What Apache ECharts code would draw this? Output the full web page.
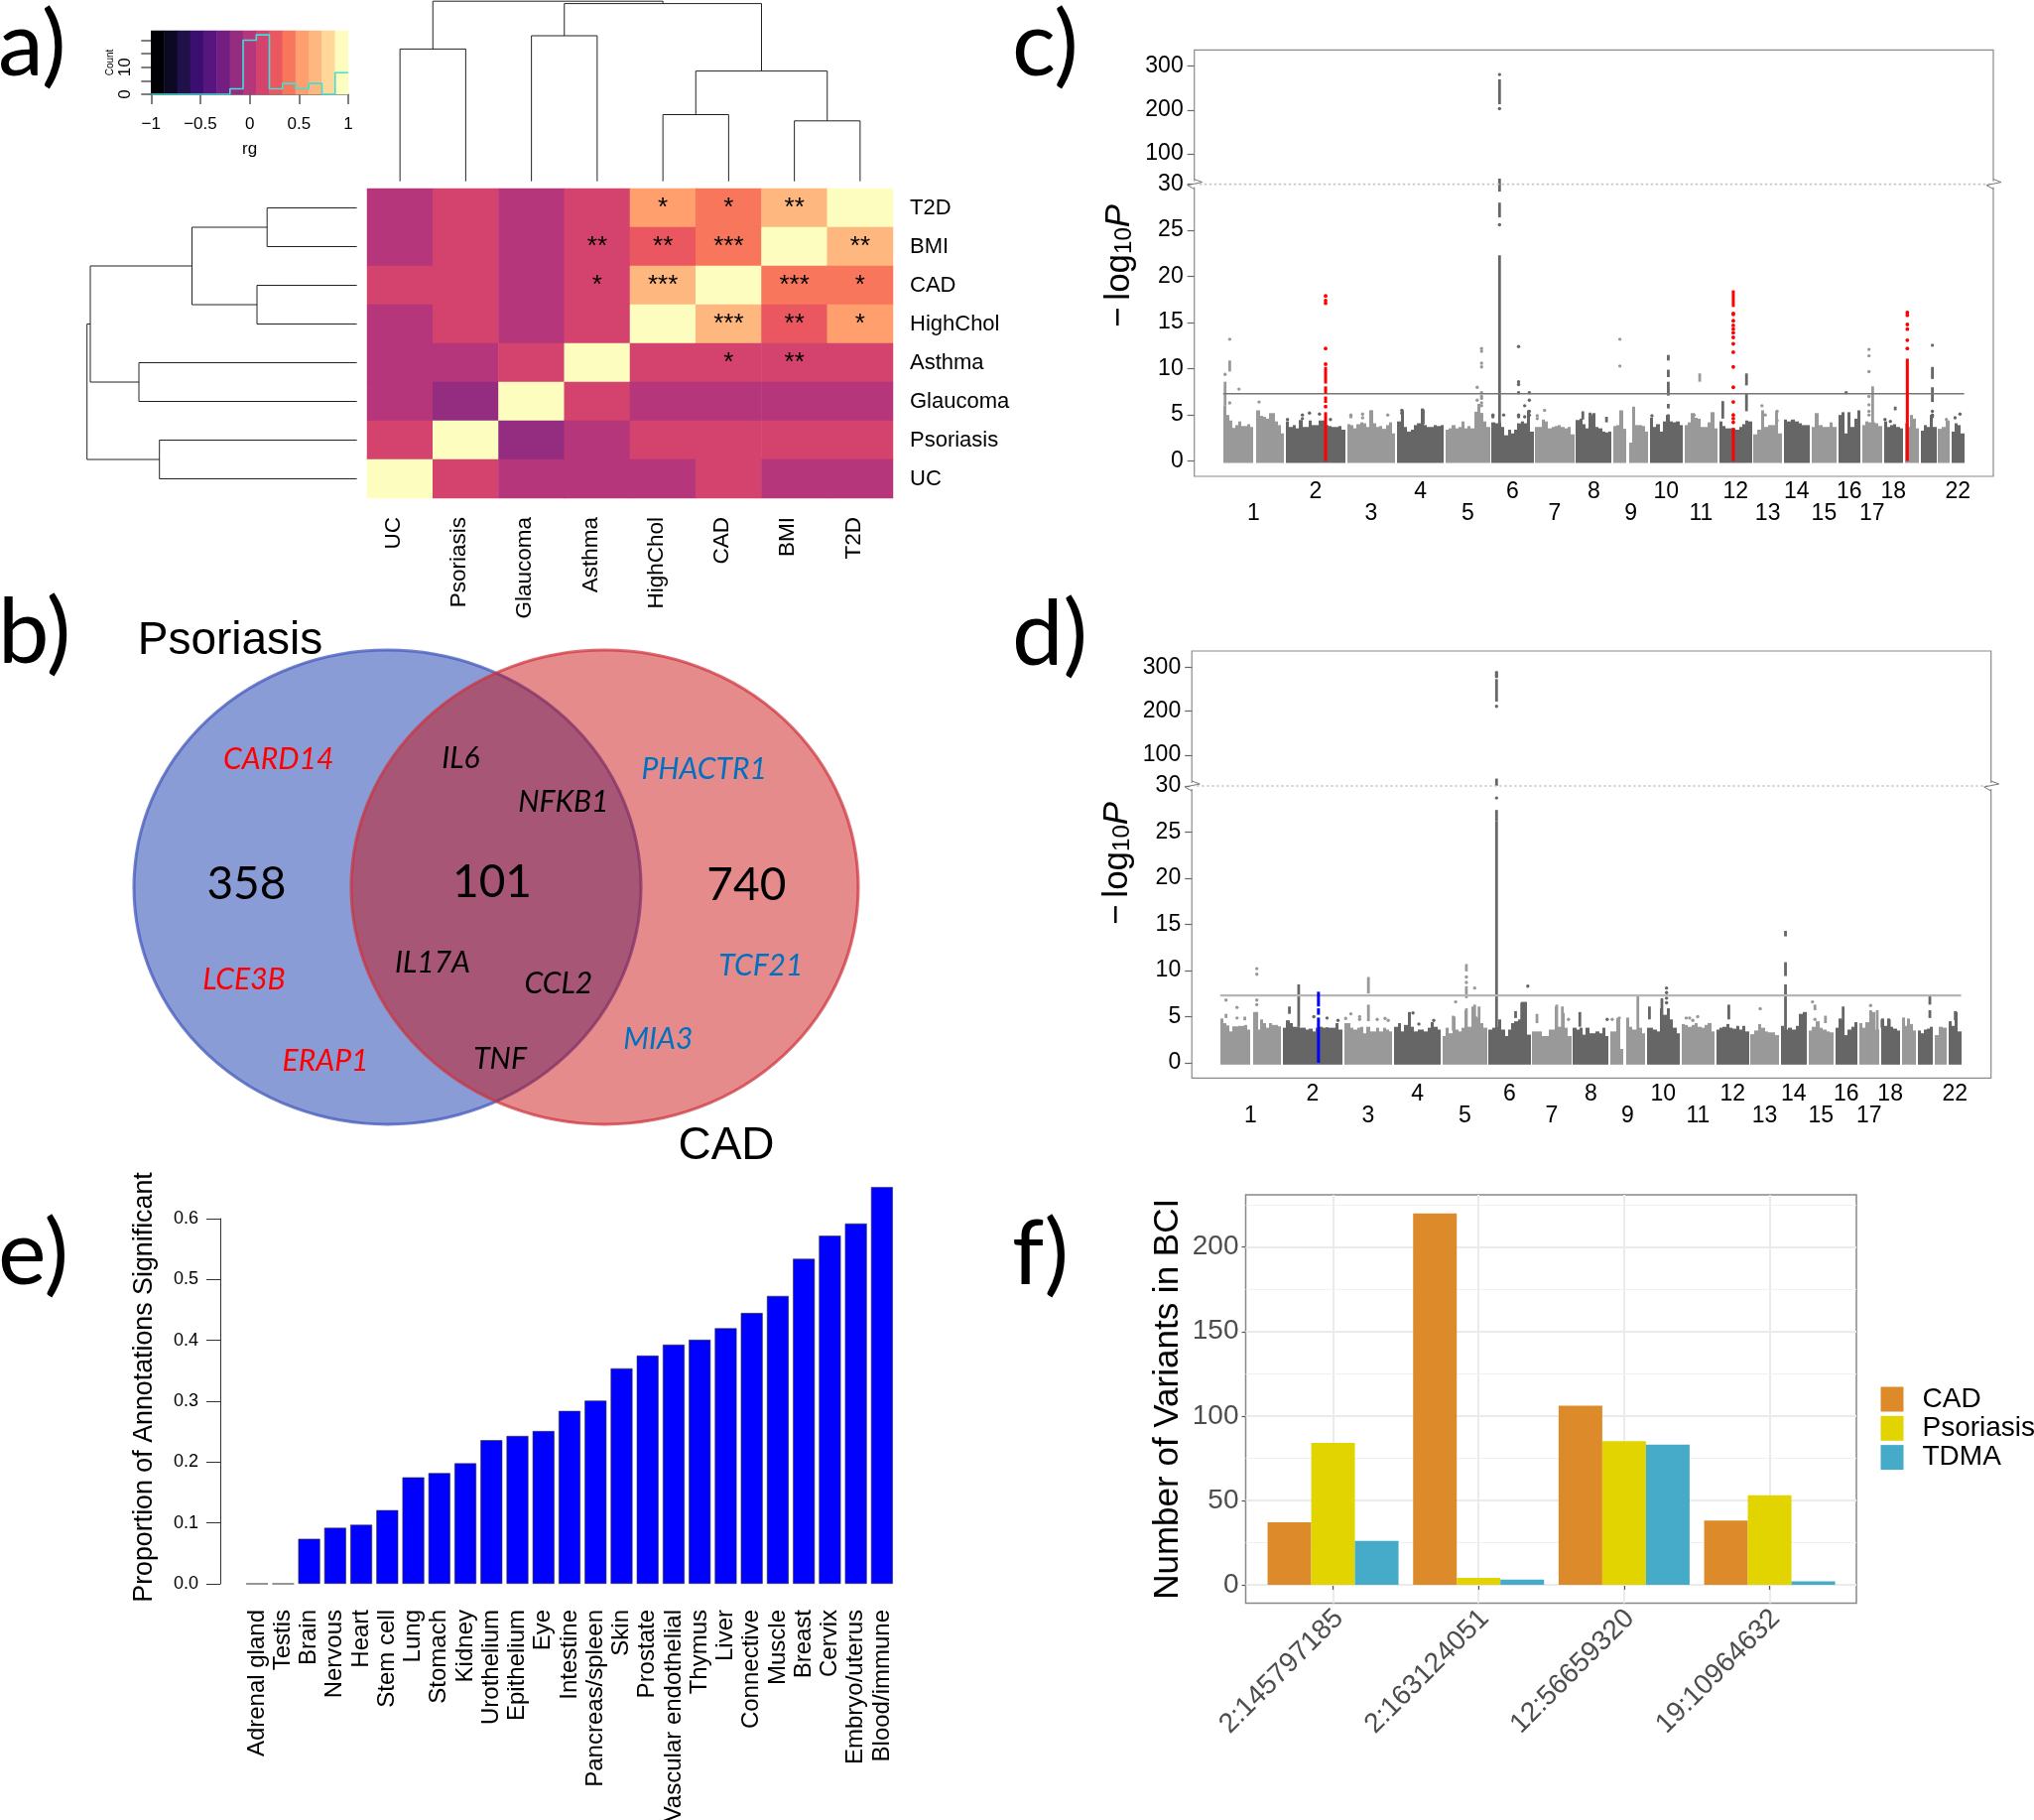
<!DOCTYPE html>
<html><head><meta charset="utf-8">
<style>html,body{margin:0;padding:0;background:#fff}#c{width:2050px;height:1834px}</style>
<script src="https://cdn.jsdelivr.net/npm/echarts@6/dist/echarts.min.js"></script>
</head><body><div id="c"></div>
<script>
// ---------- panel a ----------
const heatColumns=['UC','Psoriasis','Glaucoma','Asthma','HighChol','CAD','BMI','T2D'];
const heatRows=['T2D','BMI','CAD','HighChol','Asthma','Glaucoma','Psoriasis','UC'];
const heatValues=[
[0,.13,0,.13,.53,.40,.67,1],
[0,.13,0,.13,.27,.40,1,.67],
[.13,.13,0,.13,.67,1,.40,.40],
[0,.13,0,.13,1,.67,.27,.53],
[0,0,.13,1,.13,.13,.13,.13],
[0,-.13,1,.13,0,0,0,0],
[.13,1,-.13,0,.13,.13,.13,.13],
[1,.13,0,0,0,.13,0,0]];
const heatStars=[
['','','','','*','*','**',''],
['','','','**','**','***','','**'],
['','','','*','***','','***','*'],
['','','','','','***','**','*'],
['','','','','','*','**',''],
['','','','','','','',''],
['','','','','','','',''],
['','','','','','','','']];
const magma15=['#000004','#0b0924','#20114b','#3b0f70','#57157e','#721f81','#942c80','#b5367a','#d3436e','#eb5760','#f8765c','#fe9f6d','#feb77e','#fed799','#fcfdbf'];
const histEdges=[-1,-.8667,-.7333,-.6,-.4667,-.3333,-.2,-.0667,.0667,.2,.3333,.4667,.6,.7333,.8667,1];
const histCounts=[0,0,0,0,0,0,2,20,22,2,4,2,4,0,8,8];
// dendrogram merges: position of child 1, its height, position of child 2, its height, merge height
const topTree=[[.5,0,1.5,0,133.3],[2.5,0,3.5,0,146.7],[4.5,0,5.5,0,67.2],[6.5,0,7.5,0,60.9],[5,67.2,7,60.9,111.1],[3,146.7,6,111.1,179.1],[1,133.3,4.5,179.1,181.5]];
const leftTree=[[.5,0,1.5,0,90.4],[2.5,0,3.5,0,100.6],[1,90.4,3,100.6,166.1],[4.5,0,5.5,0,219.6],[2,166.1,5,219.6,268.6],[6.5,0,7.5,0,198.9],[3.5,268.6,7,198.9,271.9]];
// ---------- panel b ----------
const vennSets=['Psoriasis','CAD'];
const vennCounts=['358','101','740'];
const genesPsoriasis=['CARD14','LCE3B','ERAP1'];
const genesShared=['IL6','NFKB1','IL17A','CCL2','TNF'];
const genesCAD=['PHACTR1','TCF21','MIA3'];
// ---------- panels c, d ----------
const chrLens=[249,243,198,191,181,171,159,146,141,135,135,133,115,107,102,90,81,78,59,63,48,51];
const chrLabelled=[1,2,3,4,5,6,7,8,9,10,11,12,13,14,15,16,17,18,21,22];
const cSkyline=[
[6.0,5.0,4.4,3.6,3.9,4.3,3.8,3.8,4.0,3.7,0,5.5,4.9,4.8,4.6,5.2,5.2,4.3,3.9,3.0],
[4.3,3.7,3.9,3.55,4.45,3.7,3.7,4.4,3.9,3.9,4.4,4.4,3.9,3.8,3.7,3.7,3.8,3.4],
[4.0,3.9,3.55,4.0,4.2,4.1,3.7,5.5,4.1,3.7,3.8,3.5,3.9,4.2,3.0],
[4.3,5.5,3.7,3.2,3.4,3.9,4.1,5.7,3.9,3.7,3.7,3.9,3.8,3.9],
[3.4,3.55,3.9,3.55,3.7,4.3,3.55,3.8,3.55,5.35,6.2,5.2,4.3,3.7],
[4.2,4.1,4.2,3.7,2.8,3.4,3.0,3.4,4.1,4.3,4.1,5.5,3.2],
[3.7,3.7,4.5,4.3,3.55,3.7,3.8,3.9,3.7,3.55,3.7,2.9],
[4.45,4.6,4.0,3.55,5.0,5.2,3.7,3.55,3.2,3.1,3.2],
[3.8,3.9,5.5,3.5,0,2.0,5.9,3.9,3.9,3.8,3.2],
[4.7,3.7,4.0,3.2,4.3,5.0,4.3,4.2,4.3,3.9],
[3.9,4.2,5.2,4.7,4.6,3.7,3.7,4.2,5.3,3.55],
[4.3,3.8,3.55,3.55,3.55,3.4,3.7,4.0,4.4,4.3],
[2.9,3.4,5.5,3.7,3.9,3.9,5.4,3.0],
[4.5,4.3,4.5,4.3,4.1,3.9,3.9],
[3.7,5.2,3.9,3.7,3.7,4.2,3.7],
[5.0,5.3,3.0,5.3,3.7,4.6,5.5],
[3.9,4.3,4.2,4.2,4.1,3.8],
[4.3,3.7,3.9,4.0,3.7,3.55],
[4.1,3.7,5.0,4.6,3.55],
[3.3,3.9,3.7,5.0,3.7],
[3.5,3.7,4.4],
[3.2,4.1,3.9,3.0]];
// columns: chromosome, Mb, from, to
const cColumns=[[1,8,6,8.6],[1,27,9.7,10.9],[3,100,4,5.5],[4,107,4,5.6],[5,147,3.5,5.2],[6,32,3,22.3],[6,32,26.4,28],[6,32,29.2,30.6],[10,76,7.1,8.6],[10,76,9.1,9.9],[10,76,10.9,11.5],[10,76,5.7,6.2],[11,62,8.6,9.5],[12,14,4.6,6.5],[12,111,8.2,9.5],[12,111,5.4,7.3],[17,43,3.5,8.1],[18,47,5.5,5.9],[20,47,12.4,12.7],[20,47,8.9,10.2],[20,47,6.4,8.0],[8,28,4.5,5.4],[8,125,4.2,4.8]];
const cDots=[[1,8,[9.4]],[1,27,[13.2,6.3]],[1,65,[7.8]],[1,147,[6.4]],[2,97,[5.2]],[2,68,[5.0,4.6]],[2,138,[5.1]],[2,183,[4.5]],[2,7,[4.5]],[3,16,[5.0,4.8]],[3,64,[5.1,4.7]],[3,167,[5.0]],[4,19,[5.5,5.2]],[5,129,[8.0,6.6]],[5,147,[12.2,11.9,10.6,10.2,7.4,7.0,6.8,6.3,6.0]],[6,32,[25.6]],[6,5,[5.0,4.8]],[6,110,[12.4,8.6,8.3,7.4,5.0,4.8]],[6,154,[7.4,6.6,5.4,5.0]],[6,135,[6.0,4.8]],[6,49,[5.0]],[7,38,[5.5]],[7,8,[4.9,4.6]],[8,58,[5.1]],[9,26,[13.2,10.3]],[10,9,[4.9]],[10,76,[4.9]],[11,39,[5.0]],[13,34,[6.0]],[13,47,[5.0]],[13,96,[5.4,4.4]],[16,32,[7.4]],[17,28,[12.1,11.4,9.7,7.0,6.1,5.4,5.0]],[18,5,[4.5]],[18,27,[4.3]],[20,47,[5.4,5.0,4.8]],[21,34,[4.5]],[22,14,[4.7]],[22,34,[5.1]]];
const cUpperColumns=[[6,32,213,270]];
const cUpperDots=[[6,32,[281,203]]];
const cHitColumns=[[2,163,0,5.3],[2,163,6.3,7.0],[2,163,7.3,8.1],[2,163,8.4,10.2],[12,57,0,3.6],[12,57,16.7,18.5],[19,11,0,11.1]];
const cHitDots=[[2,163,[5.9,10.5,12.2,17.1,17.4,17.9]],[12,57,[16.0,15.9,15.2,14.7,14.3,13.9,13.4,12.7,11.8,10.2,8.0,6.4,5.0,4.6,4.2]],[19,11,[16.1,15.8,14.8,14.3,13.1,12.2]]];
const dSkyline=[
[4.8,4.3,4.05,3.4,3.95,3.95,4.0,4.0,4.1,3.6,0,5.5,3.6,4.7,4.3,3.8,4.3,4.1,4.1,3.95],
[3.8,4.6,4.3,3.9,3.9,3.8,3.8,3.6,3.7,3.4,3.8,3.9,3.8,3.85,3.8,3.8,4.3,3.6],
[4.3,4.3,3.8,3.6,3.8,3.9,3.2,3.9,3.4,3.4,3.8,3.4,3.8,3.6,3.4],
[3.9,4.3,3.4,4.1,5.5,3.9,3.4,3.6,3.6,3.4,3.8,4.4,3.9,3.6],
[2.9,3.8,3.2,5.0,3.6,3.4,3.8,5.7,3.9,6.1,5.0,4.85,4.3,3.8],
[3.6,3.8,3.9,4.7,3.6,2.9,3.6,4.3,4.5,4.7,6.6,6.6,3.05],
[3.4,3.4,3.4,2.9,2.9,3.6,3.6,6.1,3.9,5.4,3.8,2.9],
[3.8,3.6,3.8,3.05,3.8,3.2,3.2,3.4,3.2,3.8,2.9],
[3.4,3.4,4.85,1.5,0,4.9,3.9,3.6,3.6,3.8,3.2],
[3.8,3.8,3.6,3.4,5.9,5.2,5.9,4.7,3.8,3.2],
[4.2,4.1,3.9,4.1,4.3,3.9,3.8,4.1,4.3,3.4],
[3.6,3.8,3.9,4.2,3.8,3.7,4.0,3.6,4.0,3.4],
[3.1,3.5,4.2,3.8,3.4,3.3,3.3,3.0],
[4.0,3.6,3.8,3.6,4.0,5.3,5.5],
[3.5,3.9,4.5,3.8,3.6,3.4,3.3],
[3.8,4.8,4.7,3.0,3.6,3.9,4.4],
[4.3,3.8,4.4,5.6,5.5,3.6],
[4.8,4.0,4.8,3.9,3.7,3.5],
[4.9,4.0,4.8,4.2,3.5],
[3.5,3.2,3.6,3.7,3.9],
[3.0,3.9,3.8],
[4.5,4.0,5.5,3.4]];
const dColumns=[[1,150,3.5,5.5],[1,24,4.85,5.3],[1,101,4.6,5.0],[2,65,3.9,8.5],[2,27,5.3,6.1],[3,100,7.5,9.3],[3,100,4.5,6.3],[5,97,9.9,10.7],[5,97,7.0,8.3],[5,97,3.8,5.9],[5,131,4,6.3],[5,149,4.8,6.1],[5,43,3.5,5.1],[6,32,3,26.2],[6,32,26.2,27.4],[6,32,30,30.8],[6,110,4.85,5.6],[6,135,4.1,6.5],[7,19,4.3,5.3],[7,100,3.8,6.3],[7,123,3.8,6.1],[8,28,3.9,5.5],[9,112,3,7.3],[10,11,4.7,6.1],[10,62,3.8,7.0],[12,51,4.7,6.3],[14,20,3,8.5],[14,20,9.4,10.9],[14,20,13.7,14.3],[15,26,5.7,6.3],[15,69,4.3,5.1],[16,32,3.8,6.1],[17,47,3.5,5.7],[17,74,3.5,5.7],[18,5,3.8,4.7],[18,35,3.8,4.7],[20,49,6.3,7.4],[20,49,4.85,5.7],[22,27,4.6,5.6]];
const dDots=[[1,150,[10.2,9.6,6.8,6.3]],[1,24,[6.8]],[1,69,[6.0,4.85]],[2,127,[5.0]],[2,181,[4.85]],[2,226,[4.6]],[3,28,[5.3]],[3,64,[5.0,4.7]],[3,7,[4.8]],[3,136,[4.7]],[3,168,[4.8]],[3,181,[4.6]],[4,77,[5.4]],[4,101,[4.2]],[4,162,[4.6]],[5,97,[9.3,8.7]],[5,53,[6.6]],[5,131,[8.1]],[6,32,[28.7]],[6,160,[8.3]],[7,148,[4.7]],[8,140,[4.7]],[9,7,[4.7]],[9,36,[4.85]],[10,81,[8.1,7.6,7.0,6.5]],[11,19,[4.85]],[11,33,[4.85]],[11,66,[5.0]],[11,46,[4.6]],[13,39,[5.85]],[15,16,[6.6]],[15,26,[4.7]],[17,47,[6.2]]];
const dUpperColumns=[[6,32,222,273]];
const dUpperDots=[[6,32,[288,283,279,211]]];
const dHitColumns=[[2,146,0,4.9],[2,146,5.2,5.9],[2,146,6.1,7.7]];
const dHitDots=[];
const genomeWideLine=7.3;
// ---------- panel e ----------
const tissues=['Adrenal gland','Testis','Brain','Nervous','Heart','Stem cell','Lung','Stomach','Kidney','Urothelium','Epithelium','Eye','Intestine','Pancreas/spleen','Skin','Prostate','Vascular endothelial','Thymus','Liver','Connective','Muscle','Breast','Cervix','Embryo/uterus','Blood/immune'];
const tissueProportion=[0,0,.074,.092,.097,.121,.175,.182,.198,.236,.243,.251,.284,.301,.354,.375,.393,.401,.42,.445,.473,.534,.572,.592,.652];
// ---------- panel f ----------
const loci=['2:145797185','2:163124051','12:56659320','19:10964632'];
const bciCAD=[37,220,106,38];
const bciPsoriasis=[84,4,85,53];
const bciTDMA=[26,3,83,2];
const bciMajor=[0,50,100,150,200];
const bciMinor=[25,75,125,175,225];

// ---------- layout ----------
const SANS='"Liberation Sans"',CAL='Lato';
const grid=[],xAxis=[],yAxis=[],series=[],graphic=[];
function addGrid(l,t,w,h,extra){grid.push(Object.assign({left:l,top:t,width:w,height:h,show:false,outerBoundsMode:'none'},extra||{}));return grid.length-1;}
const hidden={show:false};
const hiddenLine={show:false,onZero:false};
function hiddenAxis(g,extra){return Object.assign({gridIndex:g,type:'value',axisLine:hiddenLine,axisTick:hidden,axisLabel:hidden,splitLine:hidden},extra);}
function addX(a){xAxis.push(a);return xAxis.length-1;}
function addY(a){yAxis.push(a);return yAxis.length-1;}
function text(t,x,y,size,rot,extra){graphic.push({type:'text',x:x,y:y,rotation:rot||0,silent:true,style:Object.assign({text:t,fontFamily:SANS,fontSize:size,fill:'#000',align:'center',verticalAlign:'middle'},extra||{})});}

// panel letters
[['a)',-2,0],['b)',-2,592],['c)',1020,0],['d)',1020,594],['e)',-2,1218],['f)',1020,1218]].forEach(p=>{
  graphic.push({type:'text',x:p[1],y:p[2],silent:true,style:{text:p[0],fontFamily:CAL,fontSize:92,fill:'#000'}});
});

// --- colour key
const gKey=addGrid(152.3,31,198.7,64);
const kx=addX({gridIndex:gKey,type:'category',data:magma15.map((_,i)=>i),axisLine:hidden,axisTick:hidden,axisLabel:hidden,splitLine:hidden});
const ky=addY({gridIndex:gKey,type:'category',data:[0],axisLine:hidden,axisTick:hidden,axisLabel:hidden,splitLine:hidden});
series.push({type:'heatmap',xAxisIndex:kx,yAxisIndex:ky,data:magma15.map((_,i)=>[i,0,(histEdges[i]+histEdges[i+1])/2])});
const keySeries=[series.length-1];
const gHist=addGrid(152.3,31,198.7,64);
const hx=addX({gridIndex:gHist,type:'value',min:-1,max:1,interval:.5,name:'rg',nameLocation:'middle',nameGap:47,nameTextStyle:{fontFamily:SANS,fontSize:17,color:'#000'},
  axisLine:{show:true,onZero:false,lineStyle:{color:'#555',width:1.5}},axisTick:{length:10,lineStyle:{color:'#555',width:1.5}},splitLine:hidden,
  axisLabel:{margin:22,fontFamily:SANS,fontSize:17,color:'#000',formatter:v=>String(v).replace('-','\u2212')}});
const hy=addY({gridIndex:gHist,type:'value',min:0,max:23.5,name:'Count',nameLocation:'middle',nameRotate:90,nameGap:36,nameTextStyle:{fontFamily:SANS,fontSize:10,color:'#000'},
  axisLine:hiddenLine,axisTick:{show:true,length:10,customValues:[0,5,10,15,20],lineStyle:{color:'#555',width:1.5}},splitLine:hidden,
  axisLabel:{show:true,customValues:[0,10],rotate:90,margin:17,fontFamily:SANS,fontSize:17,color:'#000'}});
series.push({type:'line',xAxisIndex:hx,yAxisIndex:hy,step:'end',symbol:'none',lineStyle:{color:'#3fe0d8',width:1.6},data:histCounts.map((c,i)=>[histEdges[i],c]),z:5});

// --- dendrograms
function treeItem(horizontal){return function(params,api){
  const p=horizontal?(a,h)=>api.coord([h,a]):(a,h)=>api.coord([a,h]);
  const a1=api.value(0),h1=api.value(1),a2=api.value(2),h2=api.value(3),h=api.value(4);
  return {type:'polyline',shape:{points:[p(a1,h1),p(a1,h),p(a2,h),p(a2,h2)]},style:{fill:'none',stroke:'#222',lineWidth:1}};
};}
const gTop=addGrid(370,0,530,182.7);
const tx=addX(hiddenAxis(gTop,{min:0,max:8}));const ty=addY(hiddenAxis(gTop,{min:0,max:182.7}));
series.push({type:'custom',xAxisIndex:tx,yAxisIndex:ty,renderItem:treeItem(false),data:topTree,encode:{x:0,y:4},clip:false});
const gLeft=addGrid(0,190,359.6,312);
const lx=addX(hiddenAxis(gLeft,{min:0,max:359.6,inverse:true}));const ly=addY(hiddenAxis(gLeft,{min:0,max:8,inverse:true}));
series.push({type:'custom',xAxisIndex:lx,yAxisIndex:ly,renderItem:treeItem(true),data:leftTree,encode:{x:4,y:0},clip:false});

// --- heat map
const gHeat=addGrid(370,190,530,312);
const hmx=addX({gridIndex:gHeat,type:'category',data:heatColumns,axisLine:hidden,axisTick:hidden,splitLine:hidden,axisLabel:hidden});
const hmy=addY({gridIndex:gHeat,type:'category',data:heatRows,inverse:true,position:'right',axisLine:hidden,axisTick:hidden,splitLine:hidden,
  axisLabel:{interval:0,margin:17,fontFamily:SANS,fontSize:22,color:'#000',padding:[6,0,0,0]}});
const heatData=[];heatValues.forEach((r,ri)=>r.forEach((v,ci)=>heatData.push([ci,ri,v])));
series.push({type:'heatmap',xAxisIndex:hmx,yAxisIndex:hmy,data:heatData,label:{show:true,color:'#000',fontFamily:SANS,fontSize:26,padding:[10,0,0,0],formatter:p=>heatStars[p.value[1]][p.value[0]]}});
keySeries.push(series.length-1);
// the column names sit a little to the left of their columns
const gHeatNames=addGrid(363.5,190,530,312);
addX({gridIndex:gHeatNames,type:'category',data:heatColumns,axisLine:hidden,axisTick:hidden,splitLine:hidden,
  axisLabel:{interval:0,rotate:90,margin:19,fontFamily:SANS,fontSize:22.5,color:'#000'}});
addY(hiddenAxis(gHeatNames,{min:0,max:1}));

// --- venn
const gVenn=addGrid(120,600,780,590);
const vx=addX(hiddenAxis(gVenn,{min:0,max:780}));const vy=addY(hiddenAxis(gVenn,{min:0,max:590,inverse:true}));
series.push({type:'scatter',xAxisIndex:vx,yAxisIndex:vy,symbol:'circle',symbolSize:[511,478],data:[[270.5,294]],itemStyle:{opacity:1,color:'rgba(60,90,187,.6)',borderColor:'rgba(70,90,190,.75)',borderWidth:3},z:2,silent:true,clip:false});
series.push({type:'scatter',xAxisIndex:vx,yAxisIndex:vy,symbol:'circle',symbolSize:[511,478],data:[[489.5,294]],itemStyle:{opacity:1,color:'rgba(200,8,8,.47)',borderColor:'rgba(205,50,60,.7)',borderWidth:3},z:3,silent:true,clip:false});
function vennLabels(names,where,color,size,style,fam){
  series.push({type:'scatter',xAxisIndex:vx,yAxisIndex:vy,symbolSize:1,itemStyle:{color:'transparent',opacity:1},z:4,silent:true,clip:false,
    data:names.map((n,i)=>({name:n,value:where[i]})),
    label:{show:true,position:'inside',formatter:'{b}',color:color,fontSize:size,fontStyle:style,fontFamily:fam}});
}
vennLabels(genesPsoriasis,[[160.7,165.2],[125.9,387],[208,469]],'#ff0000',30,'italic',CAL);
vennLabels(genesShared,[[344.3,164.4],[447.8,208.4],[316,370.2],[442.8,391.5],[384,467]],'#000',30,'italic',CAL);
vennLabels(genesCAD,[[589.6,175.3],[646.8,373.2],[543.3,447.3]],'#0070c0',30,'italic',CAL);
vennLabels(vennCounts,[[128.4,291],[376,289],[632.3,292.5]],'#000',46,'normal',CAL);
vennLabels(vennSets,[[112,46],[612,555]],'#000',46,'normal',SANS);

// --- manhattan panels
const chrStart=[];let acc=0;chrLens.forEach(l=>{chrStart.push(acc);acc+=l+7.5;});
const genomePos=(chr,mb)=>chrStart[chr-1]+mb;
const LIGHT='#999999',DARK='#666666';
const chrColor=c=>c%2?LIGHT:DARK;
function rectItem(params,api){
  const a=api.coord([api.value(0),api.value(2)]),b=api.coord([api.value(1),api.value(3)]);
  const x0=Math.round(a[0]),x1=Math.round(b[0]);
  return {type:'rect',shape:{x:x0,y:b[1],width:x1-x0,height:a[1]-b[1]},style:{fill:api.value(4)===1?LIGHT:DARK}};
}
function columnItem(w,color){return function(params,api){
  const a=api.coord([api.value(0),api.value(1)]),b=api.coord([api.value(0),api.value(2)]);
  return {type:'rect',shape:{x:a[0]-w/2,y:b[1],width:w,height:a[1]-b[1]},style:{fill:color||(api.value(3)%2?LIGHT:DARK)}};
};}
const flatDots=dots=>{const o=[];dots.forEach(d=>d[2].forEach(v=>o.push([genomePos(d[0],d[1]),v,d[0]])));return o;};
const flatCols=cols=>cols.map(c=>[genomePos(c[0],c[1]),c[2],c[3],c[0]]);
function manhattan(p){
  const gBox=addGrid(p.left,p.top,p.width,p.bottom-p.top,{show:true,borderColor:'#8a8a8a',borderWidth:1.2,backgroundColor:'transparent'});
  addX(hiddenAxis(gBox,{min:0,max:1}));addY(hiddenAxis(gBox,{min:0,max:1}));
  series.push({type:'line',xAxisIndex:xAxis.length-1,yAxisIndex:yAxis.length-1,data:[],silent:true});
  const tickS={length:7,lineStyle:{color:'#666',width:1.2}};
  const lab={margin:11,fontFamily:SANS,fontSize:23,color:'#000',padding:[7,0,0,0]};
  const gU=addGrid(p.left,p.top,p.width,p.brk-p.top);
  const ux=addX(hiddenAxis(gU,{min:p.xmin,max:p.xmax}));
  const uy=addY({gridIndex:gU,type:'value',min:30,max:p.umax,axisLine:hiddenLine,splitLine:hidden,axisTick:Object.assign({show:true,customValues:[100,200,300]},tickS),axisLabel:Object.assign({show:true,customValues:[100,200,300]},lab)});
  const gL=addGrid(p.left,p.brk,p.width,p.bottom-p.brk);
  const centers=chrLabelled.map(c=>genomePos(c,chrLens[c-1]/2));
  const lxi=addX({gridIndex:gL,type:'value',min:p.xmin,max:p.xmax,axisLine:hiddenLine,axisTick:hidden,splitLine:hidden,
    axisLabel:{show:true,customValues:centers,margin:5,fontFamily:SANS,fontSize:23,lineHeight:22,color:'#000',verticalAlign:'top',showMinLabel:true,showMaxLabel:true,
      formatter:v=>{const i=centers.findIndex(c=>Math.abs(c-v)<1e-6);const c=chrLabelled[i];return c%2?'\n'+c:String(c);}}});
  const lyi=addY({gridIndex:gL,type:'value',min:-1.65,max:30,axisLine:hiddenLine,splitLine:hidden,axisTick:Object.assign({show:true,customValues:[0,5,10,15,20,25,30]},tickS),axisLabel:Object.assign({show:true,customValues:[0,5,10,15,20,25,30]},lab)});
  // skyline
  const sky=[];p.skyline.forEach((arr,ci)=>{const w=chrLens[ci]/arr.length;arr.forEach((h,i)=>{if(h>0)sky.push([chrStart[ci]+i*w,chrStart[ci]+(i+1)*w,-.2,h,(ci+1)%2]);});});
  series.push({type:'custom',xAxisIndex:lxi,yAxisIndex:lyi,renderItem:rectItem,data:sky,encode:{x:[0,1],y:[2,3]},z:2,silent:true});
  series.push({type:'custom',xAxisIndex:lxi,yAxisIndex:lyi,renderItem:columnItem(p.colW),data:flatCols(p.columns),encode:{x:0,y:[1,2]},z:2,clip:false,silent:true});
  const dotStyle={opacity:1,color:q=>chrColor(q.value[2])};
  series.push({type:'scatter',xAxisIndex:lxi,yAxisIndex:lyi,symbolSize:3.4,itemStyle:dotStyle,data:flatDots(p.dots),z:2,clip:false,silent:true});
  series.push({type:'custom',xAxisIndex:ux,yAxisIndex:uy,renderItem:columnItem(p.colW),data:flatCols(p.upperColumns),encode:{x:0,y:[1,2]},z:2,silent:true});
  series.push({type:'scatter',xAxisIndex:ux,yAxisIndex:uy,symbolSize:3.4,itemStyle:dotStyle,data:flatDots(p.upperDots),z:2,silent:true});
  // genome-wide line
  series.push({type:'line',xAxisIndex:lxi,yAxisIndex:lyi,symbol:'none',silent:true,lineStyle:{color:p.lineColor,width:p.lineWidth},data:[[0,genomeWideLine],[chrStart[21]+chrLens[21],genomeWideLine]],z:3});
  // highlighted loci
  series.push({type:'custom',xAxisIndex:lxi,yAxisIndex:lyi,renderItem:columnItem(3,p.hit),data:flatCols(p.hitColumns),encode:{x:0,y:[1,2]},z:4,silent:true});
  if(p.hitDots.length)series.push({type:'scatter',xAxisIndex:lxi,yAxisIndex:lyi,symbolSize:3.8,itemStyle:{opacity:1,color:p.hit},data:flatDots(p.hitDots),z:4,silent:true});
  // axis break
  const x0=p.left,x1=p.left+p.width,y=p.brk;
  graphic.push({type:'line',silent:true,z:10,shape:{x1:x0,y1:y,x2:x1,y2:y},style:{stroke:'#c8c8c8',lineWidth:1.6,lineDash:[2.5,2.5]}});
  [x0,x1].forEach(x=>{
    graphic.push({type:'rect',silent:true,z:10,shape:{x:x-2,y:y-3,width:4,height:6},style:{fill:'#fff'}});
    graphic.push({type:'polyline',silent:true,z:11,shape:{points:[[x,y-5],[x+8,y-2],[x-7,y+1],[x,y+5]]},style:{fill:'none',stroke:'#777',lineWidth:1}});
  });
  // y title
  graphic.push({type:'text',x:p.titleX,y:p.titleY,rotation:Math.PI/2,silent:true,style:{text:'{a|\u2212\u2009log}{b|10}{c|P}',align:'center',verticalAlign:'middle',fontFamily:SANS,fontSize:35,fill:'#000',
    rich:{a:{fontFamily:SANS,fontSize:35,fill:'#000'},b:{fontFamily:SANS,fontSize:24,fill:'#000',verticalAlign:'bottom'},c:{fontFamily:SANS,fontSize:35,fontStyle:'italic',fill:'#000'}}}});
}
manhattan({left:1203.7,top:50.3,width:805.3,bottom:480,brk:185.6,xmin:-118,xmax:3153,umax:337.3,skyline:cSkyline,columns:cColumns,dots:cDots,upperColumns:cUpperColumns,upperDots:cUpperDots,hitColumns:cHitColumns,hitDots:cHitDots,hit:'#ff0000',lineColor:'#777',lineWidth:1.3,colW:2.8,titleX:1128,titleY:268});
manhattan({left:1201.2,top:656,width:805.5,bottom:1086.3,brk:792,xmin:-116,xmax:3156,umax:337,skyline:dSkyline,columns:dColumns,dots:dDots,upperColumns:dUpperColumns,upperDots:dUpperDots,hitColumns:dHitColumns,hitDots:dHitDots,hit:'#0000ff',lineColor:'#b5b5b5',lineWidth:2.4,colW:2.8,titleX:1126,titleY:870});

// --- panel e
const gE=addGrid(246,1228,656,368);
const ex=addX({gridIndex:gE,type:'category',data:tissues,axisLine:hidden,axisTick:hidden,splitLine:hidden,
  axisLabel:{interval:0,rotate:90,margin:26,fontFamily:SANS,fontSize:24,color:'#000'}});
const ey=addY({gridIndex:gE,type:'value',min:0,max:.6,interval:.1,offset:24,splitLine:hidden,axisLine:{show:true,onZero:false,lineStyle:{color:'#333',width:1}},axisTick:{show:true,length:14,lineStyle:{color:'#333',width:1}},
  axisLabel:{margin:22,fontFamily:SANS,fontSize:18,color:'#000',padding:[6,0,0,0],formatter:v=>v.toFixed(1)}});
series.push({type:'bar',xAxisIndex:ex,yAxisIndex:ey,data:tissueProportion,barWidth:22,clip:false,itemStyle:{color:'#0000ff',borderColor:'#333',borderWidth:.6}});
text('Proportion of Annotations Significant',146,1398,26.8,Math.PI/2);

// --- panel f
const gFbox=addGrid(1255.5,1204,615.5,411.6,{show:true,borderColor:'#888',borderWidth:1.5,backgroundColor:'transparent'});
const fbx=addX(hiddenAxis(gFbox,{min:0,max:1}));
const fby=addY({gridIndex:gFbox,type:'value',min:-11,max:231,name:'Number of Variants in BCI',nameLocation:'middle',nameRotate:90,nameGap:61,nameTextStyle:{fontFamily:SANS,fontSize:35,color:'#000'},
  axisLine:hiddenLine,splitLine:hidden,axisTick:{show:true,length:4,customValues:bciMajor,lineStyle:{color:'#555',width:1.2}},
  axisLabel:{show:true,customValues:bciMajor,margin:7,fontFamily:SANS,fontSize:28,color:'#4d4d4d',padding:[7,0,0,0]}});
series.push({type:'line',xAxisIndex:fbx,yAxisIndex:fby,data:[],silent:true,z:1,markLine:{silent:true,z:1,symbol:'none',label:hidden,animation:false,
  data:bciMajor.map(v=>({yAxis:v,lineStyle:{color:'#ebebeb',width:2,type:'solid'}})).concat(bciMinor.map(v=>({yAxis:v,lineStyle:{color:'#f0f0f0',width:1.2,type:'solid'}})))}});
const gF=addGrid(1270.2,1204,586.7,411.6);
const fx=addX({gridIndex:gF,type:'category',data:loci,axisLine:hidden,axisLabel:hidden,axisTick:{show:true,alignWithLabel:true,length:5,lineStyle:{color:'#555',width:1.2}},
  splitLine:{show:true,alignWithLabel:true,lineStyle:{color:'#ebebeb',width:2}}});
const fy=addY(hiddenAxis(gF,{min:-11,max:231}));
[['CAD',bciCAD,'#dd8b2a'],['Psoriasis',bciPsoriasis,'#e2d400'],['TDMA',bciTDMA,'#46abc9']].forEach(s=>{
  series.push({type:'bar',name:s[0],xAxisIndex:fx,yAxisIndex:fy,data:s[1],barWidth:44,barGap:0,itemStyle:{color:s[2]},z:3});
});
// the locus names end slightly to the right of their ticks
const gFNames=addGrid(1276.2,1204,586.7,411.6);
addX({gridIndex:gFNames,type:'category',data:loci,axisLine:hidden,axisTick:hidden,splitLine:hidden,
  axisLabel:{interval:0,rotate:45,margin:11,fontFamily:SANS,fontSize:28,color:'#4d4d4d'}});
addY(hiddenAxis(gFNames,{min:0,max:1}));

const option={animation:false,backgroundColor:'#fff',grid,xAxis,yAxis,series,graphic:{elements:graphic},
  visualMap:{type:'piecewise',show:false,seriesIndex:keySeries,dimension:2,
    pieces:magma15.map((c,i)=>({gte:histEdges[i],lt:i===14?1.01:histEdges[i+1],color:c}))},
  legend:{data:['CAD','Psoriasis','TDMA'],orient:'vertical',left:1895.5,top:1396,itemWidth:23,itemHeight:25,itemGap:1.3,icon:'rect',selectedMode:false,padding:0,
    textStyle:{fontFamily:SANS,fontSize:28,lineHeight:25,height:25,color:'#000',padding:[0,0,0,14]}}};
const chart=echarts.init(document.getElementById('c'),null,{renderer:'canvas',width:2050,height:1834});
chart.setOption(option);
</script></body></html>
